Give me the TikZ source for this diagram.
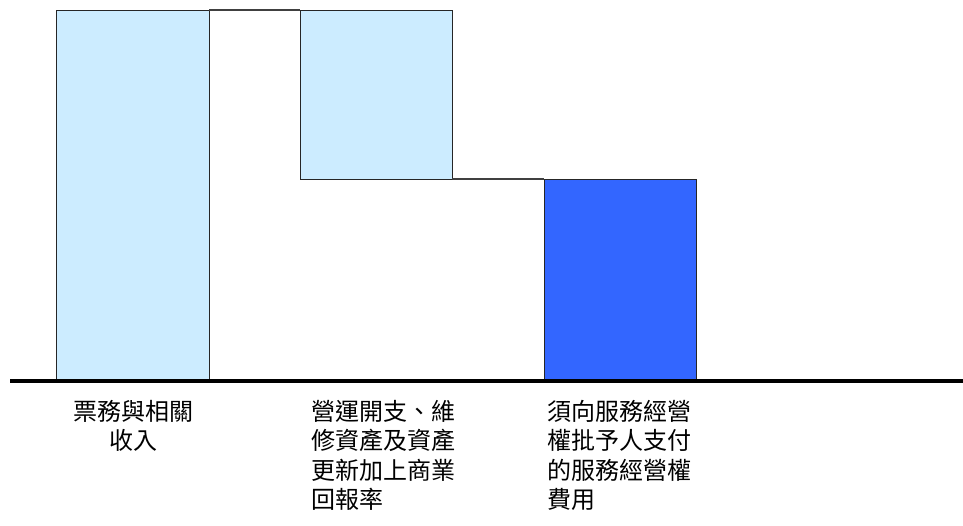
\documentclass[tikz,border=0pt]{standalone}
\usepackage{fontspec}
\newfontfamily\cjk{Noto Sans CJK TC}
\definecolor{lightbar}{HTML}{CCECFF}
\definecolor{darkbar}{HTML}{3366FF}
\begin{document}
\begin{tikzpicture}[x=1pt,y=-1pt,
  bar/.style={draw=black!85,line width=1pt},
  step line/.style={draw=black!75,line width=1.3pt},
  lbl/.style={font=\cjk\fontsize{24}{29.5}\selectfont,inner sep=0pt}]
\useasboundingbox (0,0) rectangle (963,525);
\fill[white] (0,0) rectangle (963,525);
\draw[bar,fill=lightbar] (56,10) rectangle (209,380);
\draw[bar,fill=lightbar] (300,10) rectangle (452,179);
\draw[bar,fill=darkbar] (544,179) rectangle (696,380);
\coordinate (s1a) at (209,10);
\coordinate (s1b) at (300,10);
\coordinate (s2a) at (452,179);
\coordinate (s2b) at (544,179);
\draw[step line] (s1a) -- (s1b);
\draw[step line] (s2a) -- (s2b);
\coordinate (axl) at (10,381);
\coordinate (axr) at (963,381);
\draw[line width=4pt] (axl) -- (axr);
\node[lbl,align=center,anchor=north] (t1) at (133,400) {票務與相關\\收入};
\node[lbl,align=left,anchor=north west] (t2) at (311,400) {營運開支、維\\修資產及資產\\更新加上商業\\回報率};
\node[lbl,align=left,anchor=north west] (t3) at (547,400) {須向服務經營\\權批予人支付\\的服務經營權\\費用};
\end{tikzpicture}
\end{document}
